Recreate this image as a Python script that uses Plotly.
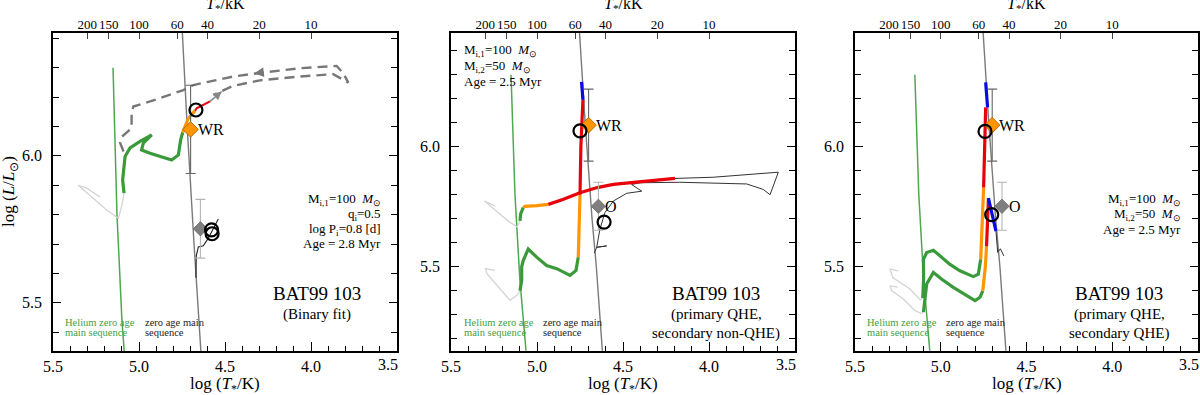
import numpy as np
import plotly.graph_objects as go

FONT = "Liberation Serif, Times New Roman, serif"

# ---------------- axes data ----------------
X_RANGE = [5.5, 3.5]
Y_RANGE_1 = [5.336, 6.418]
Y_RANGE_23 = [5.149, 6.474]
X_TICKS = [5.5, 5.0, 4.5, 4.0, 3.5]
X_TICK_LABELS = ["5.5", "5.0", "4.5", "4.0", ""]   # last label drawn as annotation (shifted inward)
X_LAST_LABEL = "3.5"
T_KK_TICKS = [200, 150, 100, 60, 40, 20, 10]
T_KK_LABELS = ["200", "150", "100", "60", "40", "20", "10"]

# ---------------- common lines ----------------
HEZAMS_X = [5.151, 5.128, 5.100, 5.064]
HEZAMS_Y = [6.30, 5.80, 5.45, 5.15]
ZAMS_X = [4.755, 4.720, 4.680, 4.655, 4.620]
ZAMS_Y = [6.50, 6.10, 5.70, 5.50, 5.15]

# observations
WR_LOGT, WR_LOGL, WR_ERR = 4.70, 6.09, 0.15
O_LOGT, O_LOGL, O_ERR = 4.643, 5.752, 0.10

# ---------------- panel 1 (binary fit) ----------------
P1_PRI_GREEN_X = [5.087, 5.095, 5.081, 5.052, 4.994, 4.926, 4.975, 4.985, 4.936, 4.849, 4.810, 4.771, 4.758, 4.746]
P1_PRI_GREEN_Y = [5.873, 5.918, 5.998, 6.027, 6.049, 6.071, 6.043, 6.020, 6.009, 5.992, 5.986, 6.003, 6.054, 6.080]
P1_PRI_ORANGE_X = [4.746, 4.713, 4.674]
P1_PRI_ORANGE_Y = [6.080, 6.128, 6.154]
P1_PRI_RED_X = [4.674, 4.665, 4.587]
P1_PRI_RED_Y = [6.154, 6.162, 6.185]
P1_PRI_END_X = [4.587, 4.519]
P1_PRI_END_Y = [6.185, 6.219]
P1_LIGHT_X = [5.227, 5.304, 5.353, 5.266, 5.188, 5.120, 5.100, 5.087]
P1_LIGHT_Y = [5.860, 5.890, 5.900, 5.856, 5.816, 5.788, 5.830, 5.873]
P1_DASH_X = [5.090, 5.110, 5.100, 5.060, 5.043, 5.043, 5.033, 4.936, 4.742, 4.684, 4.452, 4.258,
             4.064, 3.851, 3.812, 3.783, 3.870, 4.064, 4.297, 4.453, 4.568]
P1_DASH_Y = [6.015, 6.045, 6.065, 6.085, 6.094, 6.145, 6.168, 6.185, 6.224, 6.241, 6.270, 6.285,
             6.298, 6.306, 6.281, 6.249, 6.278, 6.270, 6.257, 6.238, 6.207]
P1_DASH_ARROW_X = [4.27, 4.33]
P1_DASH_ARROW_Y = [6.285, 6.281]
P1_SEC_X = [4.669, 4.667, 4.655, 4.626, 4.597, 4.572, 4.539]
P1_SEC_Y = [5.585, 5.660, 5.690, 5.694, 5.720, 5.748, 5.785]
P1_CIRC_X = [4.669, 4.578, 4.575]
P1_CIRC_Y = [6.156, 5.748, 5.735]

# ---------------- panel 2 ----------------
P2_PRI_GREEN_X = [5.099, 5.089, 5.089, 5.080, 5.051, 5.002, 4.944, 4.885, 4.808, 4.773, 4.765, 4.760]
P2_PRI_GREEN_Y = [5.400, 5.443, 5.500, 5.526, 5.574, 5.540, 5.505, 5.492, 5.464, 5.485, 5.520, 5.540]
P2_PRI_ORANGE_X = [4.760, 4.752, 4.750]
P2_PRI_ORANGE_Y = [5.540, 5.700, 5.800]
P2_PRI_RED_X = [4.750, 4.745, 4.733]
P2_PRI_RED_Y = [5.800, 6.000, 6.195]
P2_PRI_BLUE_X = [4.733, 4.741]
P2_PRI_BLUE_Y = [6.195, 6.270]
P2_SEC_GREEN_X = [5.099, 5.095, 5.080]
P2_SEC_GREEN_Y = [5.691, 5.720, 5.747]
P2_SEC_ORANGE_X = [5.080, 5.070, 5.000, 4.934]
P2_SEC_ORANGE_Y = [5.747, 5.752, 5.755, 5.760]
P2_SEC_RED_X = [4.934, 4.850, 4.750, 4.650, 4.556, 4.440, 4.198]
P2_SEC_RED_Y = [5.760, 5.780, 5.808, 5.830, 5.843, 5.852, 5.868]
P2_SEC_THIN_X = [4.198, 3.976, 3.597, 3.610, 3.626, 3.645, 3.684, 3.781, 4.169, 4.400, 4.450, 4.391,
                 4.479, 4.556, 4.605, 4.634, 4.653, 4.595, 4.653, 4.667]
P2_SEC_THIN_Y = [5.868, 5.873, 5.894, 5.870, 5.836, 5.800, 5.822, 5.845, 5.852, 5.850, 5.843, 5.815,
                 5.806, 5.774, 5.726, 5.657, 5.581, 5.587, 5.581, 5.557]
P2_LIGHT_UP_X = [5.244, 5.305, 5.215, 5.157, 5.116, 5.099]
P2_LIGHT_UP_Y = [5.753, 5.774, 5.719, 5.685, 5.666, 5.691]
P2_LIGHT_LO_X = [5.244, 5.300, 5.290, 5.220, 5.157, 5.110, 5.099]
P2_LIGHT_LO_Y = [5.485, 5.492, 5.470, 5.410, 5.360, 5.385, 5.400]
P2_CIRC_X = [4.750, 4.610]
P2_CIRC_Y = [6.066, 5.686]

# ---------------- panel 3 ----------------
P3_PRI_GREEN_X = [5.105, 5.100, 5.101, 5.082, 5.043, 5.004, 4.946, 4.888, 4.810, 4.781, 4.767]
P3_PRI_GREEN_Y = [5.370, 5.450, 5.531, 5.559, 5.569, 5.545, 5.510, 5.483, 5.459, 5.469, 5.531]
P3_PRI_ORANGE_X = [4.767, 4.755, 4.750]
P3_PRI_ORANGE_Y = [5.531, 5.700, 5.830]
P3_PRI_RED_X = [4.750, 4.738]
P3_PRI_RED_Y = [5.830, 6.164]
P3_PRI_BLUE_X = [4.727, 4.738]
P3_PRI_BLUE_Y = [6.164, 6.268]
P3_SEC_GREEN_X = [5.101, 5.092, 5.082, 5.043, 4.994, 4.927, 4.849, 4.800, 4.771, 4.755]
P3_SEC_GREEN_Y = [5.311, 5.366, 5.428, 5.476, 5.448, 5.414, 5.379, 5.359, 5.373, 5.400]
P3_SEC_ORANGE_X = [4.755, 4.740, 4.733]
P3_SEC_ORANGE_Y = [5.400, 5.500, 5.585]
P3_SEC_RED_X = [4.733, 4.722]
P3_SEC_RED_Y = [5.585, 5.786]
P3_SEC_BLUE_X = [4.722, 4.700, 4.678]
P3_SEC_BLUE_Y = [5.786, 5.720, 5.648]
P3_SEC_THIN_X = [4.678, 4.668, 4.652, 4.632]
P3_SEC_THIN_Y = [5.648, 5.560, 5.575, 5.545]
P3_LIGHT_UP_X = [5.247, 5.296, 5.280, 5.179, 5.120, 5.105]
P3_LIGHT_UP_Y = [5.483, 5.490, 5.455, 5.407, 5.362, 5.370]
P3_LIGHT_LO_X = [5.250, 5.296, 5.285, 5.218, 5.150, 5.111, 5.101]
P3_LIGHT_LO_Y = [5.415, 5.420, 5.400, 5.366, 5.317, 5.305, 5.311]
P3_CIRC_X = [4.742, 4.703]
P3_CIRC_Y = [6.064, 5.717]

# ---------------- colours ----------------
C_GREEN = "#3a9a3a"
C_HEZ = "#4ea84e"
C_HEZ_TXT = "#3f9f3f"
C_ORANGE = "#ff9500"
C_RED = "#e8000b"
C_BLUE = "#0a0ae6"
C_ZAMS = "#7a7a7a"
C_LIGHT = "#d4d4d4"
C_DASH = "#777777"

fig = go.Figure()


def ids(i):
    return ("x" if i == 1 else f"x{i}"), ("y" if i == 1 else f"y{i}")


def add_line(i, xs, ys, color, width, dash=None):
    xa, ya = ids(i)
    fig.add_trace(go.Scatter(x=xs, y=ys, xaxis=xa, yaxis=ya, mode="lines",
                             line=dict(color=color, width=width, dash=dash),
                             showlegend=False, hoverinfo="skip"))


def add_obs(i):
    xa, ya = ids(i)
    fig.add_trace(go.Scatter(x=[O_LOGT], y=[O_LOGL], xaxis=xa, yaxis=ya, mode="markers",
                             marker=dict(symbol="diamond", size=11, color="#7f7f7f",
                                         line=dict(color="#666", width=0.8)),
                             error_y=dict(type="constant", value=O_ERR, color="#b5b5b5",
                                          thickness=1.1, width=5),
                             showlegend=False, hoverinfo="skip"))
    fig.add_trace(go.Scatter(x=[WR_LOGT], y=[WR_LOGL], xaxis=xa, yaxis=ya, mode="markers",
                             marker=dict(symbol="diamond", size=12, color=C_ORANGE,
                                         line=dict(color="#a65c00", width=0.8)),
                             error_y=dict(type="constant", value=WR_ERR, color="#666666",
                                          thickness=1.1, width=5),
                             showlegend=False, hoverinfo="skip"))


def add_circles(i, xs, ys):
    xa, ya = ids(i)
    fig.add_trace(go.Scatter(x=xs, y=ys, xaxis=xa, yaxis=ya, mode="markers",
                             marker=dict(symbol="circle-open", size=13, color="black",
                                         line=dict(width=2.2, color="black")),
                             showlegend=False, hoverinfo="skip"))


for i in (1, 2, 3):
    add_line(i, HEZAMS_X, HEZAMS_Y, C_HEZ, 1.5)
    add_line(i, ZAMS_X, ZAMS_Y, C_ZAMS, 1.4)

# panel 1
add_line(1, P1_LIGHT_X, P1_LIGHT_Y, C_LIGHT, 1.3)
add_line(1, P1_DASH_X, P1_DASH_Y, C_DASH, 2.4, dash="10px,6px")
add_line(1, P1_SEC_X, P1_SEC_Y, "#222222", 1.1)
add_line(1, P1_PRI_GREEN_X, P1_PRI_GREEN_Y, C_GREEN, 3.2)
add_line(1, P1_PRI_ORANGE_X, P1_PRI_ORANGE_Y, C_ORANGE, 3.2)
add_line(1, P1_PRI_RED_X, P1_PRI_RED_Y, C_RED, 2.0)
add_line(1, P1_PRI_END_X, P1_PRI_END_Y, "#888888", 1.6)
add_obs(1)
add_circles(1, P1_CIRC_X, P1_CIRC_Y)

# panel 2
add_line(2, P2_LIGHT_UP_X, P2_LIGHT_UP_Y, C_LIGHT, 1.3)
add_line(2, P2_LIGHT_LO_X, P2_LIGHT_LO_Y, C_LIGHT, 1.3)
add_line(2, P2_SEC_THIN_X, P2_SEC_THIN_Y, "#333333", 1.0)
add_line(2, P2_SEC_GREEN_X, P2_SEC_GREEN_Y, C_GREEN, 3.2)
add_line(2, P2_SEC_ORANGE_X, P2_SEC_ORANGE_Y, C_ORANGE, 3.2)
add_line(2, P2_SEC_RED_X, P2_SEC_RED_Y, C_RED, 3.2)
add_line(2, P2_PRI_GREEN_X, P2_PRI_GREEN_Y, C_GREEN, 3.2)
add_line(2, P2_PRI_ORANGE_X, P2_PRI_ORANGE_Y, C_ORANGE, 3.2)
add_line(2, P2_PRI_RED_X, P2_PRI_RED_Y, C_RED, 3.2)
add_line(2, P2_PRI_BLUE_X, P2_PRI_BLUE_Y, C_BLUE, 3.2)
add_obs(2)
add_circles(2, P2_CIRC_X, P2_CIRC_Y)

# panel 3
add_line(3, P3_LIGHT_UP_X, P3_LIGHT_UP_Y, C_LIGHT, 1.3)
add_line(3, P3_LIGHT_LO_X, P3_LIGHT_LO_Y, C_LIGHT, 1.3)
add_line(3, P3_SEC_THIN_X, P3_SEC_THIN_Y, "#333333", 1.0)
add_line(3, P3_SEC_GREEN_X, P3_SEC_GREEN_Y, C_GREEN, 3.2)
add_line(3, P3_SEC_ORANGE_X, P3_SEC_ORANGE_Y, C_ORANGE, 3.2)
add_line(3, P3_SEC_RED_X, P3_SEC_RED_Y, C_RED, 3.2)
add_line(3, P3_SEC_BLUE_X, P3_SEC_BLUE_Y, C_BLUE, 3.2)
add_line(3, P3_PRI_GREEN_X, P3_PRI_GREEN_Y, C_GREEN, 3.2)
add_line(3, P3_PRI_ORANGE_X, P3_PRI_ORANGE_Y, C_ORANGE, 3.2)
add_line(3, P3_PRI_RED_X, P3_PRI_RED_Y, C_RED, 3.2)
add_line(3, P3_PRI_BLUE_X, P3_PRI_BLUE_Y, C_BLUE, 3.2)
add_obs(3)
add_circles(3, P3_CIRC_X, P3_CIRC_Y)

# invisible traces for top axes
TOP_POS = list(np.log10(np.array(T_KK_TICKS, dtype=float) * 1000.0))
for i in (1, 2, 3):
    _, ya = ids(i)
    fig.add_trace(go.Scatter(x=[TOP_POS[0]], y=[6.0], xaxis=f"x{i + 3}", yaxis=ya,
                             mode="markers", marker=dict(opacity=0), showlegend=False,
                             hoverinfo="skip"))

# ---------------- layout ----------------
PANEL_PX = [(53, 397), (451, 795), (855, 1198)]
X_DOMS = [[l / 1200, r / 1200] for (l, r) in PANEL_PX]
Y_DOM = [1 - 351 / 395, 1 - 33 / 395]
Y_RANGES = [Y_RANGE_1, Y_RANGE_23, Y_RANGE_23]
TICKFONT = dict(family=FONT, size=16, color="black")

layout = dict(width=1200, height=395, margin=dict(l=0, r=0, t=0, b=0, pad=0, autoexpand=False),
              paper_bgcolor="white", plot_bgcolor="white", showlegend=False,
              font=dict(family=FONT, color="black"))
for i in (1, 2, 3):
    xa, ya = ids(i)
    xk = "xaxis" if i == 1 else f"xaxis{i}"
    yk = "yaxis" if i == 1 else f"yaxis{i}"
    layout[xk] = dict(domain=X_DOMS[i - 1], anchor=ya, range=X_RANGE, tickmode="array",
                      tickvals=X_TICKS, ticktext=X_TICK_LABELS, ticks="inside", ticklen=9,
                      tickwidth=1.2, tickcolor="black", automargin=False, tickangle=0,
                      ticklabeloverflow="allow",
                      minor=dict(tickmode="linear", tick0=3.5, dtick=0.1, ticks="inside",
                                 ticklen=5, tickcolor="black", tickwidth=1),
                      showline=True, linewidth=1.6, linecolor="black", mirror=True,
                      showgrid=False, zeroline=False, tickfont=TICKFONT)
    layout[yk] = dict(domain=Y_DOM, anchor=xa, range=Y_RANGES[i - 1], tickmode="linear",
                      tick0=5.5, dtick=0.5, tickformat=".1f", ticks="inside", ticklen=8,
                      tickwidth=1.2, tickcolor="black", automargin=False,
                      minor=dict(dtick=0.1, ticks="inside", ticklen=6, tickcolor="black", tickwidth=1.2),
                      showline=True, linewidth=1.6, linecolor="black", mirror="ticks",
                      showgrid=False, zeroline=False, tickfont=TICKFONT, ticklabelstandoff=6)
    layout[f"xaxis{i + 3}"] = dict(overlaying=xa, side="top", anchor=ya, range=X_RANGE,
                                   tickmode="array", tickvals=TOP_POS, ticktext=T_KK_LABELS,
                                   ticks="inside", ticklen=6, tickcolor="#444", tickwidth=1,
                                   automargin=False, tickangle=0,
                                   showline=False, showgrid=False, zeroline=False,
                                   tickfont=dict(family=FONT, size=13, color="black"))
fig.update_layout(**layout)


def PX(p):
    return p / 1200.0


def PY(p):
    return 1 - p / 395.0


ann = []


def txt(px, py, s, size, xanchor="center", color="black", angle=0):
    ann.append(dict(x=PX(px), y=PY(py), xref="paper", yref="paper", text=s, showarrow=False,
                    xanchor=xanchor, yanchor="middle", textangle=angle,
                    font=dict(family=FONT, size=size, color=color)))


MSUN = "<i>M</i><sub>⊙</sub>"
# axis titles
txt(10, 192, "log (<i>L</i>/<i>L</i><sub>⊙</sub>)", 17, angle=-90)
for (l, r) in PANEL_PX:
    c = (l + r) / 2
    txt(c, 385, "log (<i>T</i><sub>*</sub>/K)", 17)
    txt(c, 4, "<i>T</i><sub>*</sub>/kK", 16)
    # last bottom tick label, pulled inward as in the original
    txt(r - 9, 364, X_LAST_LABEL, 16)

# helium / zams labels
for hx, zx in [(63, 143), (462, 541), (865, 944)]:
    txt(hx, 322, "Helium zero age", 10.5, "left", C_HEZ_TXT)
    txt(hx, 332, "main sequence", 10.5, "left", C_HEZ_TXT)
    txt(zx, 322, "zero age main", 10.5, "left", "#222")
    txt(zx, 332, "sequence", 10.5, "left", "#222")

# panel 1 text
txt(383, 199, "M<sub>i,1</sub>=100  " + MSUN, 13, "right")
txt(383, 214, "q<sub>i</sub>=0.5", 13, "right")
txt(383, 229, "log P<sub>i</sub>=0.8 [d]", 13, "right")
txt(383, 244, "Age = 2.8 Myr", 13, "right")
txt(317, 293, "BAT99 103", 19)
txt(317, 314, "(Binary fit)", 15)

# panel 2 text
txt(462, 50, "M<sub>i,1</sub>=100  " + MSUN, 13, "left")
txt(462, 66, "M<sub>i,2</sub>=50  " + MSUN, 13, "left")
txt(462, 81, "Age = 2.5 Myr", 13, "left")
txt(716, 293, "BAT99 103", 19)
txt(716, 314, "(primary QHE,", 15)
txt(716, 333, "secondary non-QHE)", 15)

# panel 3 text
txt(1183, 199, "M<sub>i,1</sub>=100  " + MSUN, 13, "right")
txt(1183, 214, "M<sub>i,2</sub>=50  " + MSUN, 13, "right")
txt(1183, 229, "Age = 2.5 Myr", 13, "right")
txt(1119, 293, "BAT99 103", 19)
txt(1119, 314, "(primary QHE,", 15)
txt(1119, 333, "secondary QHE)", 15)

# WR / O labels next to observed points
for i in (1, 2, 3):
    xa, ya = ids(i)
    ann.append(dict(x=WR_LOGT, y=WR_LOGL, xref=xa, yref=ya, text="WR", showarrow=False,
                    xanchor="left", yanchor="middle", xshift=5,
                    font=dict(family=FONT, size=16, color="black")))
    if i > 1:
        ann.append(dict(x=O_LOGT, y=O_LOGL, xref=xa, yref=ya, text="O", showarrow=False,
                        xanchor="left", yanchor="middle", xshift=5,
                        font=dict(family=FONT, size=16, color="black")))

# arrows on panel 1 tracks
ann.append(dict(x=P1_PRI_END_X[-1], y=P1_PRI_END_Y[-1], ax=P1_PRI_END_X[0] - 0.04,
                ay=P1_PRI_END_Y[0] + 0.02, xref="x", yref="y", axref="x", ayref="y",
                text="", showarrow=True, arrowhead=2, arrowsize=1.2, arrowwidth=1.4,
                arrowcolor="#888888"))
ann.append(dict(x=P1_DASH_ARROW_X[1], y=P1_DASH_ARROW_Y[1], ax=P1_DASH_ARROW_X[0],
                ay=P1_DASH_ARROW_Y[0], xref="x", yref="y", axref="x", ayref="y",
                text="", showarrow=True, arrowhead=2, arrowsize=1.2, arrowwidth=1.6,
                arrowcolor=C_DASH))

fig.update_layout(annotations=ann)
fig.write_html("out.html", config={"displayModeBar": False},
               post_script="document.body.style.margin='0px';document.body.style.padding='0px';")
